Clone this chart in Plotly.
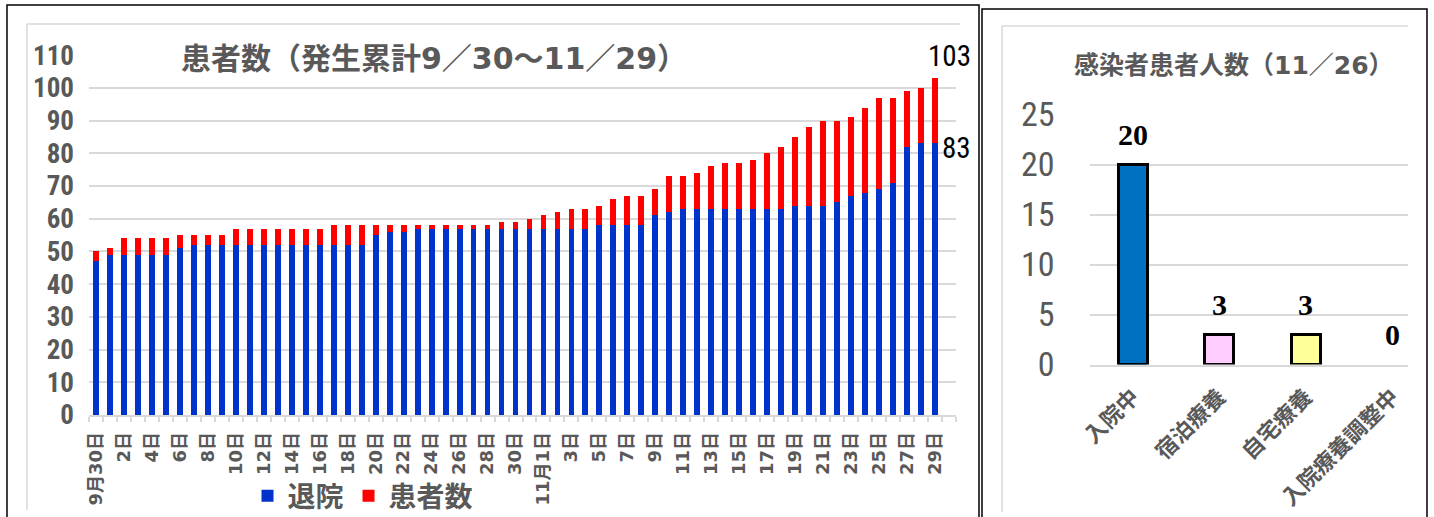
import plotly.graph_objects as go

W, H = 1434, 517

# ---------------- data: left chart (9/30 - 11/29) ----------------
tick_labels = ["9月30日", "2日", "4日", "6日", "8日", "10日", "12日", "14日", "16日", "18日",
               "20日", "22日", "24日", "26日", "28日", "30日", "11月1日", "3日", "5日", "7日",
               "9日", "11日", "13日", "15日", "17日", "19日", "21日", "23日", "25日", "27日", "29日"]

# cumulative number of cases (top of each stacked bar)
cumulative = [50, 51, 54, 54, 54, 54, 55, 55, 55, 55,
              57, 57, 57, 57, 57, 57, 57, 58, 58, 58,
              58, 58, 58, 58, 58, 58, 58, 58, 58, 59,
              59, 60, 61, 62, 63, 63, 64, 66, 67, 67,
              69, 73, 73, 74, 76, 77, 77, 78, 80, 82,
              85, 88, 90, 90, 91, 94, 97, 97, 99, 100,
              103]
# discharged (blue)
discharged = [47, 49, 49, 49, 49, 49, 51, 52, 52, 52,
              52, 52, 52, 52, 52, 52, 52, 52, 52, 52,
              55, 56, 56, 57, 57, 57, 57, 57, 57, 57,
              57, 57, 57, 57, 57, 57, 58, 58, 58, 58,
              61, 62, 63, 63, 63, 63, 63, 63, 63, 63,
              64, 64, 64, 65, 67, 68, 69, 71, 82, 83,
              83]

# ---------------- data: right chart (11/26) ----------------
status_labels = ["入院中", "宿泊療養", "自宅療養", "入院療養調整中"]
status_values = [20, 3, 3, 0]
status_colors = ["#0070C0", "#FFCCFF", "#FFFF99", "#FFFFFF"]

# ---------------- derived ----------------
current = [c - d for c, d in zip(cumulative, discharged)]
xi = list(range(len(cumulative)))
tick_pos = xi[::2]

GRAY = "#595959"
GRID = "#d9d9d9"
CJK = "Noto Sans CJK JP"
MIX = "DejaVu Sans, Noto Sans CJK JP"
NARROW = "Liberation Sans Narrow, Roboto Condensed, Roboto"


def px(x):
    return x / W


def py(y):
    return 1 - y / H


fig = go.Figure()
fig.add_trace(go.Bar(x=xi, y=discharged, name="退院", marker=dict(color="#0033CC", line=dict(width=0)),
                     width=0.42, xaxis="x", yaxis="y"))
fig.add_trace(go.Bar(x=xi, y=current, name="患者数", marker=dict(color="#FF0000", line=dict(width=0)),
                     width=0.42, xaxis="x", yaxis="y"))
fig.add_trace(go.Bar(x=status_labels, y=status_values, showlegend=False, width=0.34,
                     marker=dict(color=status_colors, line=dict(color="black", width=[3, 3, 3, 0])),
                     xaxis="x2", yaxis="y2"))

annotations = []
# left title
annotations.append(dict(text="患者数（発生累計9／30～11／29）", x=px(434), y=py(58), xref="paper", yref="paper",
                        showarrow=False, xanchor="center", yanchor="middle",
                        font=dict(family=MIX, size=30, color=GRAY, weight="bold")))
# right title
annotations.append(dict(text="感染者患者人数（11／26）", x=px(1234), y=py(65), xref="paper", yref="paper",
                        showarrow=False, xanchor="center", yanchor="middle",
                        font=dict(family=MIX, size=25, color=GRAY, weight="bold")))
# left data labels on last bar
last = len(cumulative) - 1
annotations.append(dict(text=str(cumulative[last]), x=xi[last], y=cumulative[last], xref="x", yref="y",
                        showarrow=False, xanchor="center", yanchor="bottom", xshift=14, yshift=3,
                        font=dict(family=NARROW, size=29, color="black")))
annotations.append(dict(text=str(discharged[last]), x=xi[last], y=discharged[last], xref="x", yref="y",
                        showarrow=False, xanchor="left", yanchor="middle", xshift=5, yshift=-5,
                        font=dict(family=NARROW, size=29, color="black")))
# right data labels
for lab, v in zip(status_labels, status_values):
    annotations.append(dict(text=str(v), x=lab, y=v, xref="x2", yref="y2", showarrow=False,
                            xanchor="center", yanchor="middle", yshift=30,
                            font=dict(family="Liberation Serif", size=30, color="black", weight="bold")))

shapes = [
    # outer frames
    dict(type="rect", xref="paper", yref="paper", x0=px(7), x1=px(979), y0=py(530), y1=py(5),
         line=dict(color="black", width=1.5)),
    dict(type="rect", xref="paper", yref="paper", x0=px(982), x1=px(1427), y0=py(530), y1=py(9),
         line=dict(color="black", width=1.5)),
    # inner chart-area borders
    dict(type="line", xref="paper", yref="paper", x0=px(27), x1=px(960), y0=py(24), y1=py(24),
         line=dict(color=GRID, width=1.5)),
    dict(type="line", xref="paper", yref="paper", x0=px(27), x1=px(27), y0=py(24), y1=py(510),
         line=dict(color=GRID, width=1.5)),
    dict(type="line", xref="paper", yref="paper", x0=px(1002), x1=px(1408), y0=py(26), y1=py(26),
         line=dict(color=GRID, width=1.5)),
    dict(type="line", xref="paper", yref="paper", x0=px(1002), x1=px(1002), y0=py(26), y1=py(512),
         line=dict(color=GRID, width=1.5)),
]

fig.update_layout(
    width=W, height=H,
    margin=dict(l=0, r=0, t=0, b=0, autoexpand=False),
    paper_bgcolor="white", plot_bgcolor="white",
    barmode="stack",
    font=dict(family=CJK, color=GRAY),
    showlegend=True,
    legend=dict(orientation="h", x=px(363), xanchor="center", y=py(496), yanchor="middle",
                traceorder="normal", font=dict(family=CJK, size=28, color=GRAY, weight="bold"),
                bgcolor="rgba(0,0,0,0)"),
    xaxis=dict(domain=[px(89), px(956)], range=[-0.5, 61.5], tickmode="array", tickvals=tick_pos,
               ticktext=tick_labels, tickangle=-90, ticks="", showgrid=False, zeroline=False,
               showline=True, linecolor=GRID, linewidth=1.5, automargin=False,
               minor=dict(ticks="outside", ticklen=5, tickcolor=GRID, tickwidth=1.5, dtick=1, tick0=0.5,
                          showgrid=False),
               tickfont=dict(family=MIX, size=18, color=GRAY, weight="bold"), ticklabelstandoff=8,
               anchor="y"),
    yaxis=dict(domain=[py(415), py(55)], range=[0, 110.05], tickmode="linear", tick0=0, dtick=10,
               showgrid=True, gridcolor=GRID, gridwidth=1.5, zeroline=False, showline=False,
               automargin=False,
               tickfont=dict(family=NARROW, size=27, color=GRAY, weight="bold"), ticklabelstandoff=14,
               anchor="x"),
    xaxis2=dict(domain=[px(1089.5), px(1408)], range=[-0.5, 3.182], type="category", tickangle=-45,
                ticks="", showgrid=False, zeroline=False, showline=True, linecolor=GRID, linewidth=1.5,
                automargin=False,
                tickfont=dict(family=CJK, size=22, color=GRAY, weight="bold"), ticklabelstandoff=9,
                anchor="y2"),
    yaxis2=dict(domain=[py(364.5), py(114)], range=[0, 25.05], tickmode="linear", tick0=0, dtick=5,
                showgrid=True, gridcolor=GRID, gridwidth=1.5, zeroline=False, showline=False,
                automargin=False,
                tickfont=dict(family=NARROW, size=34, color=GRAY), ticklabelstandoff=34,
                anchor="x2"),
    annotations=annotations,
    shapes=shapes,
)

# remove the default 8px body margin so the figure sits at the window's top-left corner
fig.write_html("out.html", config={"displayModeBar": False},
               post_script="document.body.style.margin='0';document.body.style.overflow='hidden';")
